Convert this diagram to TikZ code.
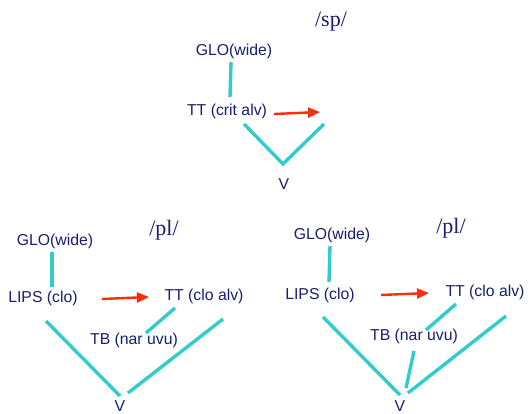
\documentclass[tikz,border=0pt]{standalone}
\usepackage{fontspec}
\setmainfont{Liberation Sans}
\newfontfamily\serifmain{Liberation Serif}
\usetikzlibrary{arrows.meta}
\definecolor{navy}{RGB}{25,30,110}
\definecolor{cyanline}{RGB}{51,204,204}
\definecolor{redarrow}{RGB}{250,45,10}
\tikzset{
  lab/.style={inner sep=0pt, text=navy, font=\fontsize{15.8}{18}\selectfont},
  title/.style={inner sep=0pt, text=navy, font=\serifmain\fontsize{22}{26}\selectfont},
  assoc/.style={draw=cyanline, line width=3.4pt},
  gest/.style={draw=redarrow, line width=2.4pt, -{Triangle[length=12pt,width=10pt]}}
}
\begin{document}
\begin{tikzpicture}[x=1pt,y=-1pt]
\useasboundingbox (0,0) rectangle (528,414);
\fill[white] (0,0) rectangle (528,414);
% top /sp/
\node[title] (t1) at (331,22) {/sp/};
\node[lab] (g1) at (234,51) {GLO(wide)};
\node[lab] (tt1) at (227,111) {TT (crit alv)};
\node[lab] (v1) at (284,184) {V};
\coordinate (g1b) at (231,62);
\coordinate (tt1t) at (230,97);
\coordinate (a1s) at (274,114);
\coordinate (a1e) at (320,112);
\coordinate (l1) at (244,124);
\coordinate (j1) at (283,164);
\coordinate (r1) at (324,124);
\draw[assoc] (g1b) -- (tt1t);
\draw[gest] (a1s) -- (a1e);
\draw[assoc] (l1) -- (j1) -- (r1);
% bottom left /pl/
\node[title] (t2) at (164,230) {/pl/};
\node[lab] (g2) at (55,241) {GLO(wide)};
\node[lab] (lp2) at (43,298) {LIPS (clo)};
\node[lab] (tt2) at (204,296) {TT (clo alv)};
\node[lab] (tb2) at (134,340) {TB (nar uvu)};
\node[lab] (v2) at (120,406) {V};
\coordinate (g2b) at (52,252);
\coordinate (lp2t) at (52,287);
\coordinate (a2s) at (102,299);
\coordinate (a2e) at (149,297);
\coordinate (tt2b) at (175,308);
\coordinate (tb2t) at (146,333);
\coordinate (l2) at (46,321);
\coordinate (j2l) at (120,396);
\coordinate (j2r) at (128,393);
\coordinate (r2) at (223,319);
\draw[assoc] (g2b) -- (lp2t);
\draw[gest] (a2s) -- (a2e);
\draw[assoc] (tt2b) -- (tb2t);
\draw[assoc] (l2) -- (j2l);
\draw[assoc] (j2r) -- (r2);
% bottom right /pl/
\node[title] (t3) at (451,228) {/pl/};
\node[lab] (g3) at (332,235) {GLO(wide)};
\node[lab] (lp3) at (320,295) {LIPS (clo)};
\node[lab] (tt3) at (485,292) {TT (clo alv)};
\node[lab] (tb3) at (414,336) {TB (nar uvu)};
\node[lab] (v3) at (400,406) {V};
\coordinate (g3b) at (330,246);
\coordinate (lp3t) at (329,282);
\coordinate (a3s) at (381,295);
\coordinate (a3e) at (429,293);
\coordinate (tt3b) at (456,304);
\coordinate (tb3t) at (426,330);
\coordinate (tb3b) at (414,351);
\coordinate (j3m) at (406,388);
\coordinate (l3) at (323,317);
\coordinate (j3l) at (400,395);
\coordinate (j3r) at (408,393);
\coordinate (r3) at (506,316);
\draw[assoc] (g3b) -- (lp3t);
\draw[gest] (a3s) -- (a3e);
\draw[assoc] (tt3b) -- (tb3t);
\draw[assoc] (tb3b) -- (j3m);
\draw[assoc] (l3) -- (j3l);
\draw[assoc] (j3r) -- (r3);
\end{tikzpicture}
\end{document}
